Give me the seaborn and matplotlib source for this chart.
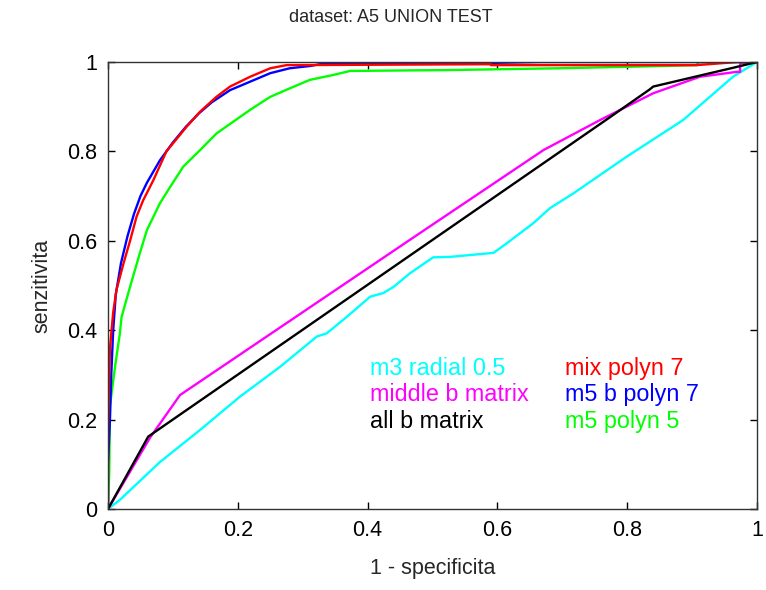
import numpy as np
import pandas as pd
import matplotlib
matplotlib.use("Agg")
import matplotlib.pyplot as plt
import seaborn as sns

title = "dataset: A5 UNION TEST"
xlabel = "1 - specificita"
ylabel = "senzitivita"
ticks = [0, 0.2, 0.4, 0.6, 0.8, 1]
tick_labels = ["0", "0.2", "0.4", "0.6", "0.8", "1"]

# m3 radial 0.5 (cyan)
cyan_x = [0, 0.018, 0.08, 0.142, 0.203, 0.265, 0.296, 0.322, 0.337, 0.368, 0.404, 0.424,
          0.44, 0.465, 0.501, 0.527, 0.594, 0.614, 0.655, 0.681, 0.717, 0.799, 0.886, 0.963, 1]
cyan_y = [0, 0.02, 0.105, 0.177, 0.251, 0.318, 0.355, 0.386, 0.393, 0.43, 0.475, 0.483,
          0.497, 0.527, 0.563, 0.564, 0.573, 0.594, 0.639, 0.673, 0.706, 0.788, 0.87, 0.967, 1]
# middle b matrix (magenta)
mag_x = [0, 0.065, 0.111, 0.465, 0.671, 0.758, 0.84, 0.912, 0.969, 0.974, 0.974, 1]
mag_y = [0, 0.16, 0.255, 0.602, 0.803, 0.87, 0.93, 0.967, 0.978, 0.978, 0.997, 1]
# all b matrix (black)
blk_x = [0, 0.062, 0.5, 0.768, 0.835, 0.84, 0.963, 1]
blk_y = [0, 0.162, 0.602, 0.871, 0.939, 0.945, 0.987, 1]
# mix polyn 7 (red)
red_x = [0, 0, 0.003, 0.008, 0.013, 0.024, 0.034, 0.044, 0.054, 0.07, 0.09, 0.121, 0.142,
         0.167, 0.188, 0.219, 0.25, 0.275, 0.59, 0.59, 0.907, 0.97, 1]
red_y = [0, 0.18, 0.36, 0.44, 0.49, 0.55, 0.60, 0.654, 0.69, 0.736, 0.80, 0.855, 0.889,
         0.922, 0.945, 0.967, 0.986, 0.993, 0.995, 0.993, 0.993, 1.0, 1.0]
# m5 b polyn 7 (blue)
blu_x = [0, 0, 0.003, 0.005, 0.008, 0.012, 0.02, 0.03, 0.04, 0.05, 0.06, 0.08, 0.1, 0.12,
         0.14, 0.16, 0.188, 0.219, 0.25, 0.28, 0.311, 0.33, 0.59, 0.665, 1]
blu_y = [0, 0.1, 0.2, 0.3, 0.4, 0.48, 0.55, 0.61, 0.66, 0.70, 0.73, 0.78, 0.82, 0.855,
         0.885, 0.91, 0.937, 0.956, 0.975, 0.986, 0.991, 0.996, 0.998, 1.0, 1.0]
# m5 polyn 5 (green)
grn_x = [0, 0.002, 0.003, 0.011, 0.018, 0.021, 0.034, 0.049, 0.06, 0.08, 0.096, 0.116,
         0.142, 0.167, 0.219, 0.25, 0.28, 0.311, 0.347, 0.373, 0.527, 0.696, 0.855, 0.907, 0.91, 1]
grn_y = [0, 0.087, 0.23, 0.32, 0.39, 0.43, 0.497, 0.572, 0.624, 0.684, 0.721, 0.766,
         0.803, 0.84, 0.893, 0.922, 0.941, 0.96, 0.971, 0.98, 0.982, 0.986, 0.991, 0.993, 1.0, 1.0]

series = [
    ("m3 radial 0.5", cyan_x, cyan_y, "#00ffff"),
    ("middle b matrix", mag_x, mag_y, "#ff00ff"),
    ("all b matrix", blk_x, blk_y, "#000000"),
    ("mix polyn 7", red_x, red_y, "#ff0000"),
    ("m5 b polyn 7", blu_x, blu_y, "#0000ff"),
    ("m5 polyn 5", grn_x, grn_y, "#00ff00"),
]
draw_order = [0, 1, 5, 4, 3, 2]

sns.set_style("ticks")
plt.rcParams["font.family"] = ["Liberation Sans", "DejaVu Sans"]

fig = plt.figure(figsize=(7.66, 5.90), dpi=100)
ax = fig.add_axes([108 / 766, 81 / 590, 649 / 766, 447 / 590])

for i in draw_order:
    name, xs, ys, col = series[i]
    df = pd.DataFrame({"x": xs, "y": ys})
    sns.lineplot(data=df, x="x", y="y", sort=False, estimator=None, color=col,
                 linewidth=1.7, ax=ax, label=name)

ax.set_xlim(0, 1)
ax.set_ylim(0, 1)
ax.set_xticks(ticks)
ax.set_xticklabels(tick_labels)
ax.set_yticks(ticks)
ax.set_yticklabels(tick_labels)
ax.tick_params(direction="in", length=5, width=1, top=True, right=True,
               labelsize=15.5, colors="#000000", pad=8)
for s in ax.spines.values():
    s.set_visible(True)
    s.set_linewidth(1.0)
    s.set_color("#333333")

ax.set_xlabel(xlabel, fontsize=15.5, labelpad=12)
ax.set_ylabel(ylabel, fontsize=15.5, labelpad=10)
fig.text(391 / 766, 1 - 18 / 590, title, ha="center", va="center", fontsize=13)

h, l = ax.get_legend_handles_labels()
lookup = dict(zip(l, h))
order_names = [s[0] for s in series]
leg = ax.legend([lookup[n] for n in order_names], order_names, ncol=2,
                loc="lower left", bbox_to_anchor=(0.372, 0.122), frameon=False,
                handlelength=0, handletextpad=0, columnspacing=1.55,
                labelspacing=0.17, fontsize=16.8, labelcolor="linecolor")
for hd in leg.legend_handles:
    hd.set_visible(False)

fig.savefig("out.png", dpi=100)
